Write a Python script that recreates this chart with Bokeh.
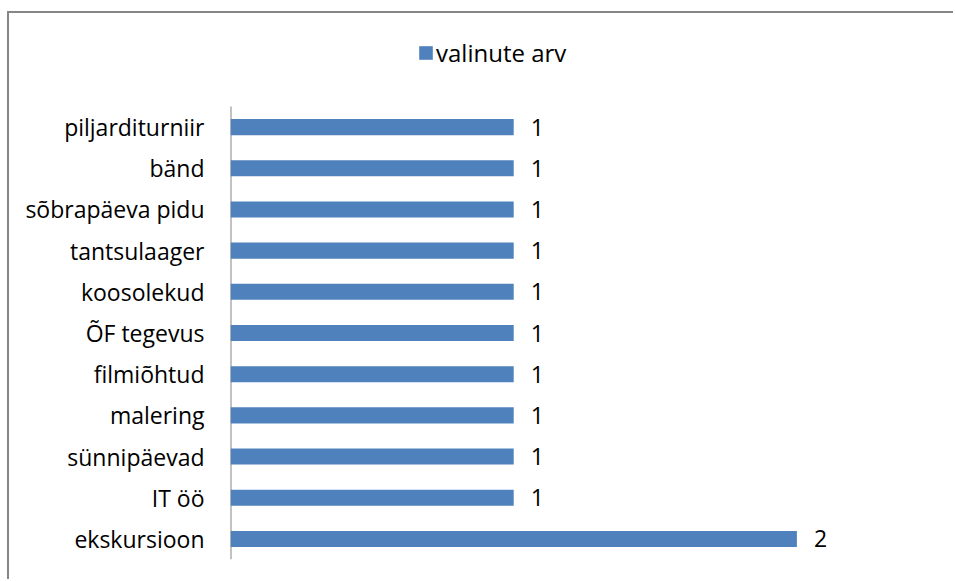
from bokeh.plotting import figure
from bokeh.models import ColumnDataSource, Legend, LegendItem, FixedTicker, Range1d
from bokeh.embed import file_html
from bokeh.resources import INLINE
from bokeh.core.properties import value

categories = ["ekskursioon", "IT öö", "sünnipäevad", "malering", "filmiõhtud",
              "ÕF tegevus", "koosolekud", "tantsulaager", "sõbrapäeva pidu",
              "bänd", "piljarditurniir"]
counts = [2, 1, 1, 1, 1, 1, 1, 1, 1, 1, 1]
series_name = "valinute arv"

FONT = "Open Sans"
FS = "23px"
BAR = "#4F81BD"
AXIS = "#868686"

n = len(categories)
pos = list(range(n))
src = ColumnDataSource(dict(pos=pos, cat=categories, val=counts,
                            lab=[str(v) for v in counts]))

W, H = 946, 568
p = figure(width=W, height=H, x_range=(0, 2.5), y_range=Range1d(-0.5, 12.637),
           output_backend="svg", toolbar_location=None,
           min_border_left=221, min_border_right=17, min_border_top=5,
           min_border_bottom=22)
p.margin = (11, 0, 0, 7)
p.styles = {"border-top": "2px solid " + AXIS, "border-left": "2px solid " + AXIS}
p.outline_line_color = None
p.xgrid.visible = False
p.ygrid.visible = False
p.xaxis.visible = False
p.yaxis.ticker = FixedTicker(ticks=pos)
p.yaxis.major_label_overrides = {i: c for i, c in zip(pos, categories)}
p.yaxis.axis_line_color = None
p.yaxis.major_tick_line_color = None
p.yaxis.minor_tick_line_color = None
p.yaxis.major_tick_out = 0
p.yaxis.major_tick_in = 0
p.yaxis.minor_tick_out = 0
p.yaxis.major_label_standoff = 26
p.yaxis.major_label_text_font = FONT
p.yaxis.major_label_text_font_size = FS
p.yaxis.major_label_text_color = "black"

# axis line spanning the category bands only
p.segment(x0=[0], y0=[pos[0] - 0.5], x1=[0], y1=[pos[-1] + 0.5],
          line_color=AXIS, line_width=2)

r = p.hbar(y="pos", right="val", left=0, height=0.39, source=src,
           fill_color=BAR, line_color=None)
p.text(x="val", y="pos", text="lab", source=src, x_offset=17,
       text_baseline="middle", text_align="left",
       text_font=value(FONT), text_font_size=FS, text_color="black")

legend = Legend(items=[LegendItem(label=series_name, renderers=[r])],
                location=(187, 490), orientation="horizontal",
                glyph_width=17, glyph_height=17, padding=0, margin=0,
                label_standoff=2, border_line_color=None,
                background_fill_alpha=0,
                label_text_font=FONT, label_text_font_size="24px",
                label_text_color="black")
p.add_layout(legend)

open("out.html", "w").write(file_html(p, INLINE))
